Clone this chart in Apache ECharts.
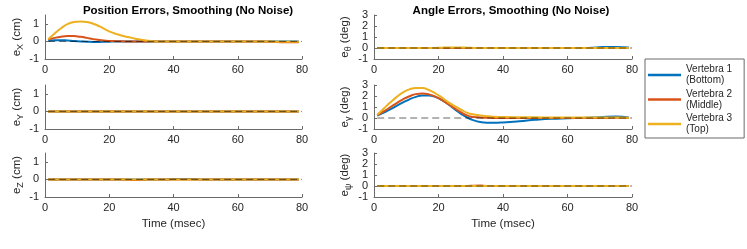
<!DOCTYPE html>
<html>
<head>
<meta charset="utf-8">
<script src="https://cdn.jsdelivr.net/npm/echarts@6/dist/echarts.min.js"></script>
<style>
  html, body { margin: 0; padding: 0; background: #ffffff; }
  #chart { width: 747px; height: 249px; }
</style>
</head>
<body>
<div id="chart"></div>
<script>
// ---------- data ----------
const timeMs = [1,3,5,7,9,11,13,15,17,19,21,23,25,27,29,31,33,35,37,40,45,50,55,60,65,70,75,79];
const refLineT = [1, 80];
const refLineV = [0, 0];
const seriesNames = ['Vertebra 1 (Bottom)', 'Vertebra 2 (Middle)', 'Vertebra 3 (Top)'];
const xTicks = [0, 20, 40, 60, 80];
const posTicks = [-1, 0, 1];
const angTicks = [-1, 0, 1, 2, 3];

// Position errors (cm)
const eX_v1 = [0.03,0.06,0.07,0.05,0.02,0,-0.02,-0.03,-0.03,-0.02,-0.01,0,0,0,0,0,0,0,0,0,0,0,0,0,0,0,0,0];
const eX_v2 = [0.1,0.2,0.27,0.3,0.3,0.26,0.2,0.13,0.08,0.04,0.02,0.01,0,0,0,0,0,0,0,0,0,0,0,0,0,-0.02,-0.05,-0.05];
const eX_v3 = [0.12,0.45,0.75,0.98,1.1,1.13,1.1,1.0,0.85,0.66,0.5,0.38,0.28,0.2,0.12,0.06,0.02,0,0,0,0,0,0,0,0,-0.01,-0.02,-0.02];

const eY_v1 = [0,0,0,0,0,0,0,0,0,0,0,0,0,0,0,0,0,0,0,0,0,0,0,0,0,0,0,0];
const eY_v2 = [0,0,0,0,0,0,0,0,0,0,0,0,0,0,0,0,0,0,0,0,0,0,0,0,0,0,0,0];
const eY_v3 = [0,0,0,0,0,0,0,0,0,0,0,0,0,0,0,0,0,0,0,0,0,0,0,0,0,0,0,0];

const eZ_v1 = [0,0,0,0,0,0,0,0,0,0,0,0,0,0,0,0,0,0,0,0.02,0.02,0,0,0,0,0,0,0];
const eZ_v2 = [0,0,0,0,0,0,0,0,0,0,0,0,-0.02,-0.03,-0.03,-0.02,0,0,0,0,0,0,0,0,0,0,0,0];
const eZ_v3 = [0,0,0,0,0,0,0,0,0,0,0,0,0,0,0,0,0,0,0,0,0,0,0,0,0,0,0,0];

// Angle errors (deg)
const eTh_v1 = [0,0,0,0,0,0,0,0,0,0,0,0,0,0,0,0,0,0,0,0,0,0,0,0,0,0.07,0.1,0.05];
const eTh_v2 = [0,0,0,0,0,0,0,0,0,0,0,0,0,0,0,0,0,0,0,0,0,0,0,0,0,0,0,0];
const eTh_v3 = [0,0,0,0,0,0,0,0,0,0,0.03,0.05,0.05,0.04,0.03,0,0,0,0,0,0,0,0,0,0,0,0,0];

const eGa_v1 = [0.22,0.5,0.78,1.1,1.42,1.7,1.92,2.05,2.05,1.92,1.65,1.25,0.8,0.38,0.03,-0.22,-0.37,-0.43,-0.43,-0.4,-0.3,-0.17,-0.07,-0.02,0.02,0.07,0.14,0.05];
const eGa_v2 = [0.25,0.6,0.97,1.35,1.7,1.98,2.17,2.22,2.15,1.95,1.65,1.27,0.88,0.52,0.22,0.1,0.05,0.02,0.01,0,0,0,0,0,0,0,0.02,0];
const eGa_v3 = [0.3,0.85,1.4,1.9,2.33,2.6,2.73,2.72,2.55,2.25,1.87,1.45,1.08,0.75,0.46,0.32,0.22,0.16,0.12,0.09,0.07,0.06,0.05,0.05,0.05,0.04,0.04,0.03];

const ePs_v1 = [0,0,0,0,0,0,0,0,0,0,0,0,0,0,0,0,0,0,0,0,0,0,0,0,0,0,0,0];
const ePs_v2 = [0,0,0,0,0,0,0,0,0,0,0,0,0,0,0,0.03,0.04,0,0,0,0,0,0,0,0,0,0,0];
const ePs_v3 = [0,0,0,0,0,0,0,0,0,0,0,0,0,0,0,0,0,0,0,0,0,0,0,0,0,0,0,0];

// ---------- layout / style ----------
const FONT = 'Liberation Sans';
const colors = ['#0072BD', '#D95319', '#EDB120'];
const axisColor = '#6a6a6a';
const labelColor = '#262626';

const panels = [
  { data: [eX_v1, eX_v2, eX_v3], name: '{m|e}{s|X}{m| (cm)}', left: 45, width: 257, top: 15, height: 44, ymin: -1, ymax: 1.5, ticks: posTicks, bottom: false, gap: 20 },
  { data: [eY_v1, eY_v2, eY_v3], name: '{m|e}{s|Y}{m| (cm)}', left: 45, width: 257, top: 85, height: 44, ymin: -1, ymax: 1.5, ticks: posTicks, bottom: false, gap: 20 },
  { data: [eZ_v1, eZ_v2, eZ_v3], name: '{m|e}{s|Z}{m| (cm)}', left: 45, width: 257, top: 153, height: 44, ymin: -1, ymax: 1.5, ticks: posTicks, bottom: true, gap: 20 },
  { data: [eTh_v1, eTh_v2, eTh_v3], name: '{m|e}{s|θ}{m| (deg)}', left: 374, width: 258, top: 15, height: 44, ymin: -1, ymax: 3, ticks: angTicks, bottom: false, gap: 21 },
  { data: [eGa_v1, eGa_v2, eGa_v3], name: '{m|e}{s|γ}{m| (deg)}', left: 374, width: 258, top: 85, height: 44, ymin: -1, ymax: 3, ticks: angTicks, bottom: false, gap: 21 },
  { data: [ePs_v1, ePs_v2, ePs_v3], name: '{m|e}{s|ψ}{m| (deg)}', left: 374, width: 258, top: 153, height: 44, ymin: -1, ymax: 3, ticks: angTicks, bottom: true, gap: 21 }
];

const grids = [], xAxes = [], yAxes = [], series = [];
panels.forEach((p, i) => {
  grids.push({ left: p.left, top: p.top, width: p.width, height: p.height, containLabel: false });
  xAxes.push({
    gridIndex: i, type: 'value', min: 0, max: 80, interval: 20,
    name: p.bottom ? 'Time (msec)' : '', nameLocation: 'middle', nameGap: 21,
    nameTextStyle: { fontFamily: FONT, fontSize: 11.5, color: labelColor },
    axisLine: { show: true, onZero: false, lineStyle: { color: axisColor, width: 1 } },
    axisTick: { show: true, inside: true, length: 3, lineStyle: { color: axisColor } },
    axisLabel: { fontFamily: FONT, fontSize: 11, color: labelColor, margin: 5, customValues: xTicks, hideOverlap: false },
    splitLine: { show: false }
  });
  yAxes.push({
    gridIndex: i, type: 'value', min: p.ymin, max: p.ymax,
    name: p.name, nameLocation: 'middle', nameRotate: 90, nameGap: p.gap,
    nameTextStyle: {
      fontFamily: FONT, color: labelColor,
      rich: {
        m: { fontFamily: FONT, fontSize: 11.5, color: labelColor, lineHeight: 16, verticalAlign: 'middle' },
        s: { fontFamily: FONT, fontSize: 9, color: labelColor, lineHeight: 9, verticalAlign: 'bottom', padding: [5, 0, 0, 0] }
      }
    },
    axisLine: { show: true, onZero: false, lineStyle: { color: axisColor, width: 1 } },
    axisTick: { show: true, inside: true, length: 3, lineStyle: { color: axisColor }, customValues: p.ticks },
    axisLabel: { fontFamily: FONT, fontSize: 11, color: labelColor, margin: 6, customValues: p.ticks, hideOverlap: false, interval: 0 },
    splitLine: { show: false }
  });
  p.data.forEach((arr, k) => {
    series.push({
      name: seriesNames[k], type: 'line', xAxisIndex: i, yAxisIndex: i,
      data: timeMs.map((t, j) => [t, arr[j]]),
      smooth: true, showSymbol: false, symbol: 'none',
      lineStyle: { color: colors[k], width: 2 }, itemStyle: { color: colors[k] },
      z: 2 + k, animation: false
    });
  });
  series.push({
    name: 'zero', type: 'line', xAxisIndex: i, yAxisIndex: i,
    data: refLineT.map((t, j) => [t, refLineV[j]]),
    showSymbol: false, symbol: 'none', silent: true,
    lineStyle: { color: 'rgba(0,0,0,0.6)', width: 1, type: [7, 4] },
    z: 10, animation: false
  });
});

const chart = echarts.init(document.getElementById('chart'), null, { renderer: 'canvas' });
chart.setOption({
  backgroundColor: '#ffffff',
  animation: false,
  textStyle: { fontFamily: FONT },
  title: [
    { text: 'Position Errors, Smoothing (No Noise)', left: 183, top: 0, textAlign: 'center',
      textStyle: { fontFamily: FONT, fontSize: 11.5, fontWeight: 'bold', color: '#000' } },
    { text: 'Angle Errors, Smoothing (No Noise)', left: 506, top: 0, textAlign: 'center',
      textStyle: { fontFamily: FONT, fontSize: 11.5, fontWeight: 'bold', color: '#000' } }
  ],
  legend: {
    data: seriesNames, orient: 'vertical', left: 645, top: 59,
    padding: [5, 12, 3, 3], itemGap: 2.5, itemWidth: 33, itemHeight: 2.5,
    icon: 'rect', borderColor: '#6a6a6a', borderWidth: 1,
    formatter: (n) => n.replace(' (', '\n('),
    textStyle: { fontFamily: FONT, fontSize: 10, color: labelColor, lineHeight: 11 },
    selectedMode: false
  },
  grid: grids, xAxis: xAxes, yAxis: yAxes, series: series
});
</script>
</body>
</html>
